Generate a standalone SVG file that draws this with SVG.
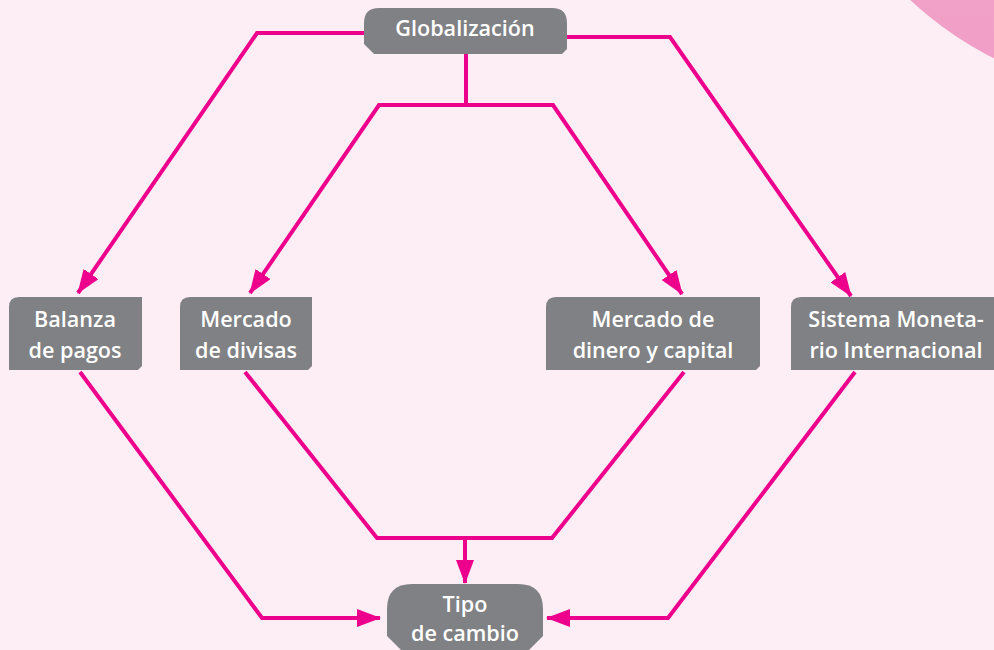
<svg xmlns="http://www.w3.org/2000/svg" width="994" height="650" viewBox="0 0 994 650">
<defs>
<style>
.box{fill:#808184;}
.lbl{font-family:"Open Sans","Liberation Sans",sans-serif;font-weight:600;font-size:21.6px;fill:#ffffff;text-anchor:middle;}
.con{fill:none;stroke:#ec008c;stroke-width:4;stroke-linejoin:miter;}
</style>
<marker id="ah" viewBox="0 0 24 18" refX="23" refY="9" markerWidth="24" markerHeight="18" markerUnits="userSpaceOnUse" orient="auto">
<path d="M0,0 L24,9 L0,18 Z" fill="#ec008c"/>
</marker>
<linearGradient id="cg" x1="0" y1="0" x2="0" y2="1">
<stop offset="0" stop-color="#f5aacd"/>
<stop offset="1" stop-color="#f09ec6"/>
</linearGradient>
</defs>
<rect width="994" height="650" fill="#fdedf5"/>
<circle cx="1150" cy="-255" r="350" fill="url(#cg)"/>
<g id="connectors">
<path class="con" d="M364,33 H257 L78,293" marker-end="url(#ah)"/>
<path class="con" d="M567,37 H670 L851,296" marker-end="url(#ah)"/>
<path class="con" d="M466,54 V105"/>
<path class="con" d="M553,105 H379 L250,293" marker-end="url(#ah)"/>
<path class="con" d="M466,105 H553 L682,294" marker-end="url(#ah)"/>
<path class="con" d="M80,372 L262,618 H380" marker-end="url(#ah)"/>
<path class="con" d="M855,372 L668,618 H547" marker-end="url(#ah)"/>
<path class="con" d="M245,372 L377,538 H552 L684,372"/>
<path class="con" d="M465,538 V583" marker-end="url(#ah)"/>
</g>
<g id="globalizacion">
<path class="box" d="M379,8 H552 Q567,8 567,23 V49 L562,54 H374 L364,44 V23 Q364,8 379,8 Z"/>
<text class="lbl" x="465" y="36">Globalización</text>
</g>
<g id="balanza">
<path class="box" d="M19,297 H142 V366 L138,370 H9 V307 Q9,297 19,297 Z"/>
<text class="lbl" x="75" y="327">Balanza</text>
<text class="lbl" x="75" y="358">de pagos</text>
</g>
<g id="divisas">
<path class="box" d="M190,297 H312 V366 L308,370 H180 V307 Q180,297 190,297 Z"/>
<text class="lbl" x="246" y="327">Mercado</text>
<text class="lbl" x="246" y="358">de divisas</text>
</g>
<g id="dinero">
<path class="box" d="M556,297 H760 V366 L756,370 H546 V307 Q546,297 556,297 Z"/>
<text class="lbl" x="653" y="327">Mercado de</text>
<text class="lbl" x="653" y="358">dinero y capital</text>
</g>
<g id="sistema">
<path class="box" d="M801,297 H998 V370 H791 V307 Q791,297 801,297 Z"/>
<text class="lbl" x="896" y="327">Sistema Moneta-</text>
<text class="lbl" x="896" y="358">rio Internacional</text>
</g>
<g id="tipo">
<path class="box" d="M412,584 H518 Q543,584 543,609 V636 L528,651 H402 L387,636 V609 Q387,584 412,584 Z"/>
<text class="lbl" x="465" y="612">Tipo</text>
<text class="lbl" x="465" y="641">de cambio</text>
</g>
</svg>
